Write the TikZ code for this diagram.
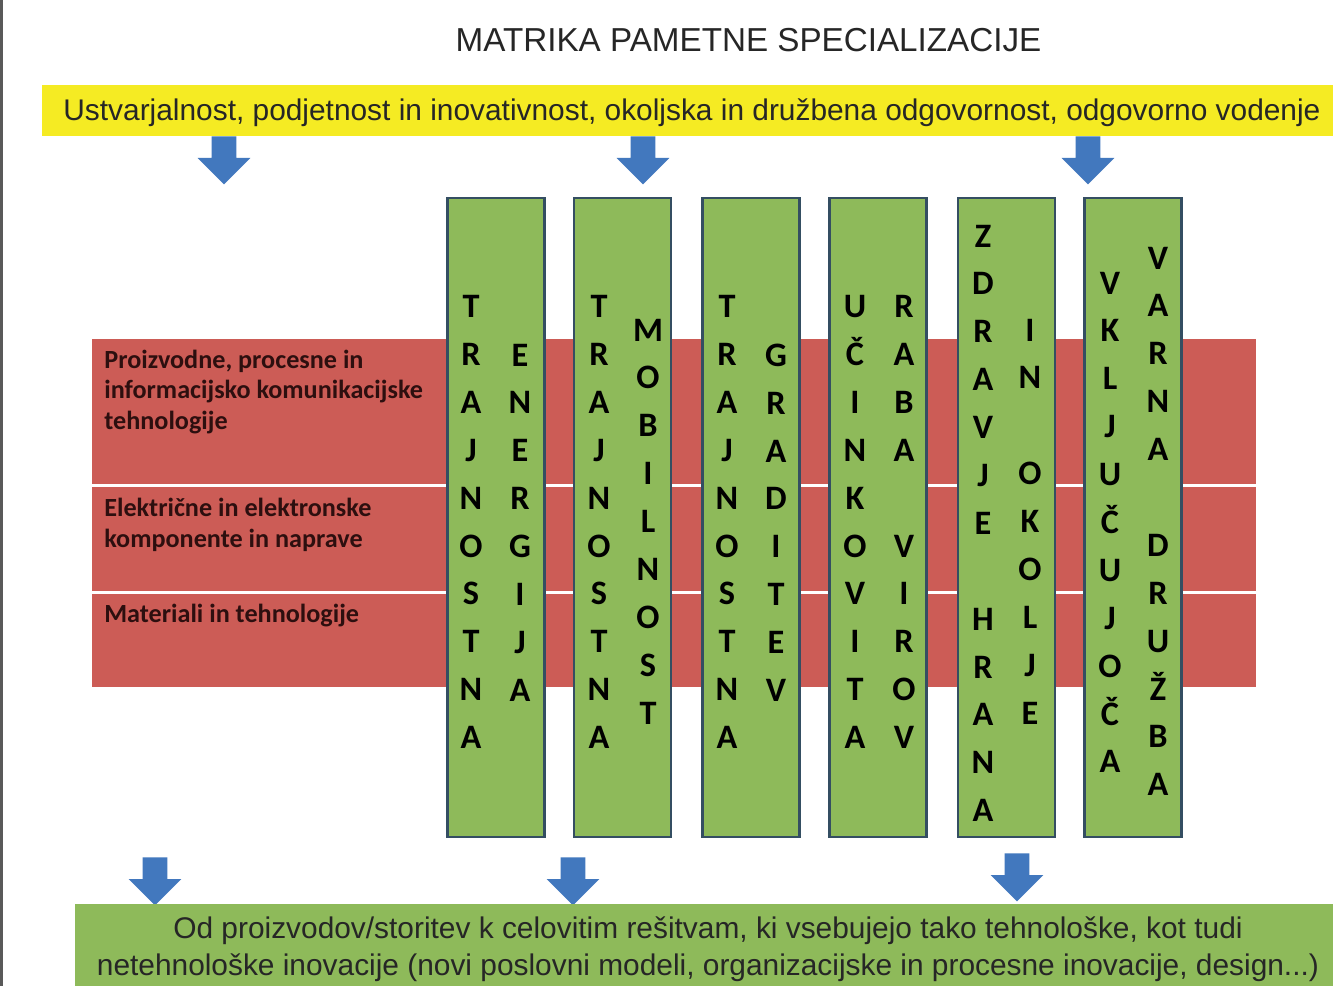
\documentclass[tikz,border=0pt]{standalone}
\usepackage{fontspec}
\setmainfont{Liberation Sans}
\newfontfamily\calibri{Carlito}
\usepackage{tikz}
\usetikzlibrary{shapes.arrows}

\definecolor{bandyellow}{RGB}{245,235,35}
\definecolor{rowred}{RGB}{204,92,86}
\definecolor{colgreen}{RGB}{142,186,90}
\definecolor{colborder}{RGB}{52,78,98}
\definecolor{arrowblue}{RGB}{66,120,190}
\definecolor{labeltext}{RGB}{45,15,15}

\begin{document}
\begin{tikzpicture}[
        pillar/.style = {draw=colborder, line width=1.6pt, fill=colgreen, minimum width=1.94cm, minimum height=12.78cm, inner sep=0},
        word/.style = {anchor=north, align=center, inner sep=0, font=\calibri\bfseries\fontsize{19.5}{27.25}\selectfont},
        sector/.style = {fill=rowred, minimum width=23.28cm, inner sep=0, anchor=north west},
        sectorlabel/.style = {anchor=north west, align=left, inner sep=0, text=labeltext, font=\calibri\bfseries\fontsize{14.9}{17.4}\selectfont},
        downarrow/.style = {single arrow, fill=arrowblue, rotate=-90, anchor=tail, minimum height=0.96cm, inner xsep=0, inner ysep=0.24cm, single arrow head extend=0.28cm}
    ]
    \useasboundingbox (0,0) rectangle (26.66,-19.72);
    \fill[white] (0,0) rectangle (26.66,-19.72);
    \fill[black!65] (0,0) rectangle (0.06,-19.72);

    \node[text=black!85, font=\fontsize{18.9}{22}\selectfont] (title) at (14.97,-0.80) {MATRIKA PAMETNE SPECIALIZACIJE};

    \node[fill=bandyellow, anchor=north west, minimum width=25.82cm, minimum height=1.02cm, inner sep=0] (vrednote) at (0.84,-1.70) {};
    \node[text=black!85, font=\fontsize{17}{20}\selectfont] (vrednotetext) at (13.84,-2.25)
          {Ustvarjalnost, podjetnost in inovativnost, okoljska in družbena odgovornost, odgovorno vodenje};

    % podrocja
    \node[sector, minimum height=2.90cm] (row1) at (1.84,-6.77) {};
    \node[sector, minimum height=2.07cm] (row2) at (1.84,-9.74) {};
    \node[sector, minimum height=1.86cm] (row3) at (1.84,-11.87) {};
    \node[sectorlabel] (ikt) at (2.08,-6.99) {Proizvodne, procesne in\\informacijsko komunikacijske\\tehnologije};
    \node[sectorlabel] (elektro) at (2.08,-9.96) {Električne in elektronske\\komponente in naprave};
    \node[sectorlabel] (materiali) at (2.08,-12.07) {Materiali in tehnologije};

    % stebri
    \node[pillar] (energija) at (9.92,-10.35) {};
    \node[pillar] (mobilnost) at (12.45,-10.35) {};
    \node[pillar] (graditev) at (15.02,-10.35) {};
    \node[pillar] (viri) at (17.56,-10.35) {};
    \node[pillar] (hrana) at (20.13,-10.35) {};
    \node[pillar] (druzba) at (22.66,-10.35) {};

    \node[word] (tr1) at (9.42,-5.90) {T\\R\\A\\J\\N\\O\\S\\T\\N\\A};
    \node[word] (en) at (10.40,-6.87) {E\\N\\E\\R\\G\\I\\J\\A};
    \node[word] (tr2) at (11.98,-5.90) {T\\R\\A\\J\\N\\O\\S\\T\\N\\A};
    \node[word] (mob) at (12.96,-6.37) {M\\O\\B\\I\\L\\N\\O\\S\\T};
    \node[word] (tr3) at (14.54,-5.90) {T\\R\\A\\J\\N\\O\\S\\T\\N\\A};
    \node[word] (grad) at (15.52,-6.87) {G\\R\\A\\D\\I\\T\\E\\V};
    \node[word] (ucin) at (17.10,-5.90) {U\\Č\\I\\N\\K\\O\\V\\I\\T\\A};
    \node[word] (raba) at (18.08,-5.90) {R\\A\\B\\A\\~\\V\\I\\R\\O\\V};
    \node[word] (zdrav) at (19.66,-4.49) {Z\\D\\R\\A\\V\\J\\E\\~\\H\\R\\A\\N\\A};
    \node[word] (okolje) at (20.60,-6.37) {I\\N\\~\\O\\K\\O\\L\\J\\E};
    \node[word] (vklj) at (22.20,-5.43) {V\\K\\L\\J\\U\\Č\\U\\J\\O\\Č\\A};
    \node[word] (varna) at (23.16,-4.93) {V\\A\\R\\N\\A\\~\\D\\R\\U\\Ž\\B\\A};

    \node[downarrow] (a1) at (4.48,-2.72) {};
    \node[downarrow] (a2) at (12.86,-2.72) {};
    \node[downarrow] (a3) at (21.76,-2.72) {};
    \node[downarrow] (b1) at (3.10,-17.14) {};
    \node[downarrow] (b2) at (11.46,-17.14) {};
    \node[downarrow] (b3) at (20.34,-17.06) {};

    \node[fill=colgreen, anchor=north west, minimum width=25.16cm, minimum height=1.64cm, inner sep=0] (resitve) at (1.50,-18.08) {};
    \node[align=center, text=black!85, font=\fontsize{17}{21}\selectfont] (resitvetext) at (14.16,-18.99)
          {Od proizvodov/storitev k celovitim rešitvam, ki vsebujejo tako tehnološke, kot tudi\\
           netehnološke inovacije (novi poslovni modeli, organizacijske in procesne inovacije, design...)};
\end{tikzpicture}
\end{document}
